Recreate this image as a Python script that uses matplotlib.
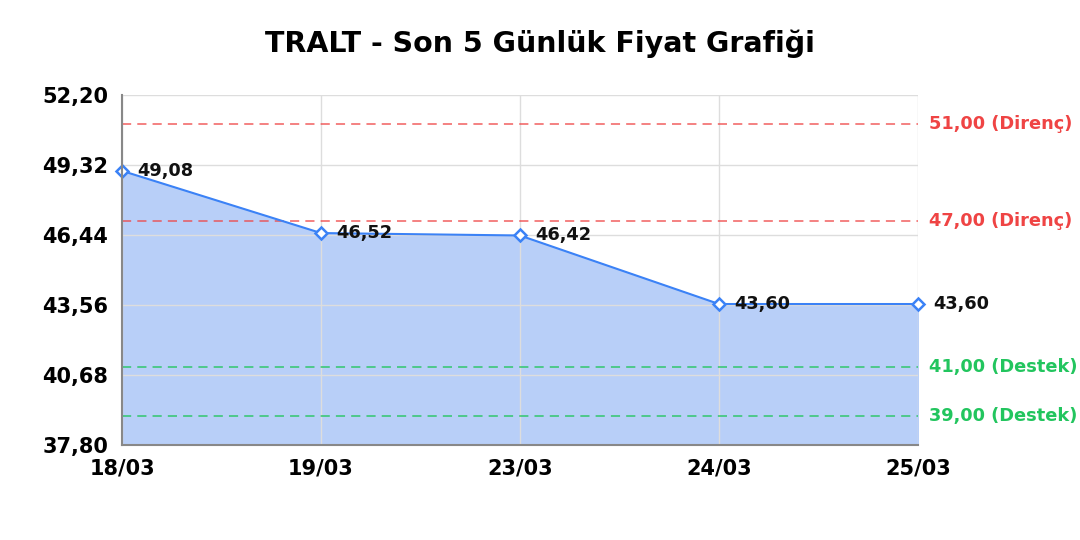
import matplotlib
matplotlib.use("Agg")
import matplotlib.pyplot as plt

dates = ["18/03", "19/03", "23/03", "24/03", "25/03"]
prices = [49.08, 46.52, 46.42, 43.60, 43.60]
resistance = [51.00, 47.00]
support = [41.00, 39.00]
y_ticks = [37.80, 40.68, 43.56, 46.44, 49.32, 52.20]

LINE = "#3b82f6"
FILL = "#b8cff8"
RED = "#ef4444"
GREEN = "#22c55e"


def fmt(v):
    return f"{v:.2f}".replace(".", ",")


fig = plt.figure(figsize=(10.8, 5.4), dpi=100)
ax = fig.add_axes([122 / 1080, 1 - 445 / 540, (918 - 122) / 1080, 350 / 540])

x = list(range(len(dates)))
ax.fill_between(x, prices, y_ticks[0], color=FILL, zorder=1)
ax.plot(x, prices, color=LINE, linewidth=1.5, marker="D", markersize=6,
        markerfacecolor="white", markeredgecolor=LINE, markeredgewidth=1.8, zorder=4,
        clip_on=False)

for xi, v in zip(x, prices):
    ax.annotate(fmt(v), (xi, v), xytext=(11, 0), textcoords="offset points",
                ha="left", va="center", fontsize=12.8, fontweight="bold", color="#111111",
                annotation_clip=False, zorder=5)

for lv in resistance:
    ax.axhline(lv, color=RED, linestyle=(0, (6, 4)), linewidth=1.1, alpha=0.85, zorder=3)
    ax.text(1.0138, lv, f"{fmt(lv)} (Direnç)", transform=ax.get_yaxis_transform(),
            ha="left", va="center", fontsize=12.8, fontweight="bold", color=RED)
for lv in support:
    ax.axhline(lv, color=GREEN, linestyle=(0, (6, 4)), linewidth=1.1, alpha=0.9, zorder=3)
    ax.text(1.0138, lv, f"{fmt(lv)} (Destek)", transform=ax.get_yaxis_transform(),
            ha="left", va="center", fontsize=12.8, fontweight="bold", color=GREEN)

ax.set_xlim(0, len(dates) - 1)
ax.set_ylim(y_ticks[0], y_ticks[-1])
ax.set_xticks(x)
ax.set_xticklabels(dates)
ax.set_yticks(y_ticks)
ax.set_yticklabels([fmt(t) for t in y_ticks])
ax.tick_params(axis="both", length=0, labelsize=15)
ax.tick_params(axis="y", pad=10)
ax.tick_params(axis="x", pad=10)
for lab in ax.get_xticklabels() + ax.get_yticklabels():
    lab.set_fontweight("bold")

ax.grid(True, color="#dddddd", linewidth=1, zorder=0)
ax.set_axisbelow(False)
for s in ["top", "right"]:
    ax.spines[s].set_visible(False)
for s in ["left", "bottom"]:
    ax.spines[s].set_color("#888888")
    ax.spines[s].set_linewidth(1.5)
    ax.spines[s].set_zorder(6)

fig.text(0.5, 1 - 44 / 540, "TRALT - Son 5 Günlük Fiyat Grafiği", ha="center", va="center",
         fontsize=20.5, fontweight="bold")

fig.savefig("out.png", dpi=100)
